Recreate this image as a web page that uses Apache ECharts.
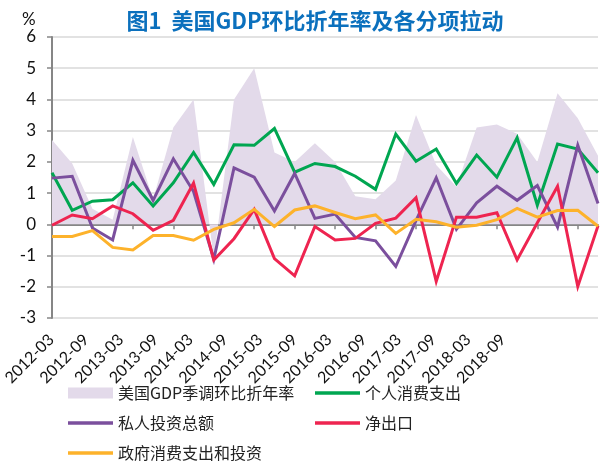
<!DOCTYPE html>
<html>
<head>
<meta charset="utf-8">
<script src="https://cdn.jsdelivr.net/npm/echarts@6/dist/echarts.min.js"></script>
<style>
html,body{margin:0;padding:0;background:#fff;}
#chart{width:600px;height:466px;}
</style>
</head>
<body>
<div id="chart"></div>
<script>
const categories = ['2012-03','2012-06','2012-09','2012-12','2013-03','2013-06','2013-09','2013-12',
  '2014-03','2014-06','2014-09','2014-12','2015-03','2015-06','2015-09','2015-12',
  '2016-03','2016-06','2016-09','2016-12','2017-03','2017-06','2017-09','2017-12',
  '2018-03','2018-06','2018-09','2018-12'];
const tickLabels = ['2012-03','2012-09','2013-03','2013-09','2014-03','2014-09','2015-03',
  '2015-09','2016-03','2016-09','2017-03','2017-09','2018-03','2018-09'];
const yTicks = [-3, 6, 1];
const seriesNames = ['美国GDP季调环比折年率','个人消费支出','私人投资总额','净出口','政府消费支出和投资'];
const gdp = [2.7, 1.95, 0.5, 0.15, 2.8, 0.8, 3.1, 4.0, -1.1, 4.0, 5.0, 2.3, 2.0, 2.6, 2.0, 0.9,
  0.8, 1.4, 3.5, 1.9, 1.2, 3.1, 3.2, 2.9, 2.0, 4.2, 3.4, 2.2];
const consumption = [1.65, 0.45, 0.74, 0.79, 1.33, 0.59, 1.33, 2.3, 1.28, 2.55, 2.53, 3.07, 1.67, 1.95,
  1.85, 1.54, 1.12, 2.89, 2.02, 2.41, 1.31, 2.22, 1.51, 2.77, 0.61, 2.57, 2.41, 1.65];
const investment = [1.48, 1.54, -0.12, -0.5, 2.05, 0.77, 2.1, 1.05, -1.12, 1.81, 1.51, 0.43, 1.63, 0.19,
  0.33, -0.42, -0.53, -1.35, 0.12, 1.49, -0.16, 0.69, 1.22, 0.77, 1.24, -0.09, 2.53, 0.67];
const netExports = [-0.03, 0.30, 0.18, 0.59, 0.34, -0.19, 0.13, 1.32, -1.14, -0.46, 0.48, -1.1, -1.65, -0.07,
  -0.5, -0.45, 0.03, 0.2, 0.85, -1.83, 0.23, 0.23, 0.37, -1.14, 0.05, 1.22, -1.99, -0.05];
const government = [-0.39, -0.39, -0.2, -0.74, -0.82, -0.36, -0.36, -0.51, -0.16, 0.05, 0.48, -0.07, 0.46, 0.59,
  0.38, 0.18, 0.3, -0.29, 0.16, 0.08, -0.09, -0.03, 0.15, 0.51, 0.23, 0.44, 0.45, -0.06];

const FONT = "Lato, 'Noto Sans CJK SC', sans-serif";
const CJK = "'Noto Sans CJK SC', sans-serif";
const colors = {gdp:'#e3daea', green:'#00a651', purple:'#7b4f9d', red:'#ee2450', orange:'#fdb22b'};

const chart = echarts.init(document.getElementById('chart'), null, {renderer:'canvas'});
const lineSeries = (name, data, color) => ({
  name, type:'line', data, xAxisIndex:0, yAxisIndex:0,
  symbol:'none', smooth:false,
  lineStyle:{color, width:3, join:'miter'},
  itemStyle:{color},
  emphasis:{disabled:true}
});
const legendItem = (name, left, top, h) => ({
  left, top, orient:'horizontal', itemWidth:45, itemHeight:h, itemGap:0,
  data:[{name, icon:'rect'}], selectedMode:false,
  textStyle:{fontFamily:CJK, fontSize:16, color:'#222', padding:[0,0,0,0]}
});
chart.setOption({
  animation:false,
  backgroundColor:'#fff',
  title:[
    {text:'图1  美国GDP环比折年率及各分项拉动', left:310, textAlign:'center', top:5,
     textStyle:{fontFamily:CJK, fontSize:22, fontWeight:'bold', color:'#0b70bd'}},
    {text:'%', left:17, top:6, textStyle:{fontFamily:FONT, fontSize:17, fontWeight:'normal', color:'#111'}}
  ],
  grid:[
    {left:52, right:2, top:37, bottom:148, containLabel:false},
    {left:50, width:453, top:37, bottom:148, containLabel:false}
  ],
  legend:[
    legendItem(seriesNames[0], 63, 380, 11),
    legendItem(seriesNames[2], 63, 410, 3.5),
    legendItem(seriesNames[4], 63, 440, 3.5),
    legendItem(seriesNames[1], 310, 380, 3.5),
    legendItem(seriesNames[3], 310, 410, 3.5)
  ],
  xAxis:[
    {type:'category', gridIndex:0, data:categories, boundaryGap:false,
     axisLine:{onZero:true, lineStyle:{color:'#868686', width:2}},
     axisTick:{show:true, interval:1, length:5, lineStyle:{color:'#868686', width:1.5}},
     axisLabel:{show:false}, splitLine:{show:false}},
    {type:'category', gridIndex:1, data:tickLabels, boundaryGap:false,
     axisLine:{show:false}, axisTick:{show:false}, splitLine:{show:false},
     axisLabel:{show:true, interval:0, rotate:45, margin:19, fontFamily:FONT, fontSize:16, color:'#111'}}
  ],
  yAxis:[
    {type:'value', gridIndex:0, min:yTicks[0], max:yTicks[1], interval:yTicks[2],
     axisLine:{show:true, lineStyle:{color:'#868686', width:2}},
     axisTick:{show:true, length:5, lineStyle:{color:'#868686', width:1.5}},
     axisLabel:{fontFamily:FONT, fontSize:17, color:'#111', margin:16},
     splitLine:{show:true, lineStyle:{color:'#d9d9d9', width:1.5}}},
    {type:'value', gridIndex:1, min:yTicks[0], max:yTicks[1], show:false}
  ],
  series:[
    {name:seriesNames[0], type:'line', data:gdp, xAxisIndex:0, yAxisIndex:0, symbol:'none',
     lineStyle:{width:0, color:colors.gdp}, itemStyle:{color:colors.gdp},
     areaStyle:{color:colors.gdp, opacity:1}, emphasis:{disabled:true}, z:1},
    lineSeries(seriesNames[1], consumption, colors.green),
    lineSeries(seriesNames[2], investment, colors.purple),
    lineSeries(seriesNames[3], netExports, colors.red),
    lineSeries(seriesNames[4], government, colors.orange)
  ]
});
</script>
</body>
</html>
